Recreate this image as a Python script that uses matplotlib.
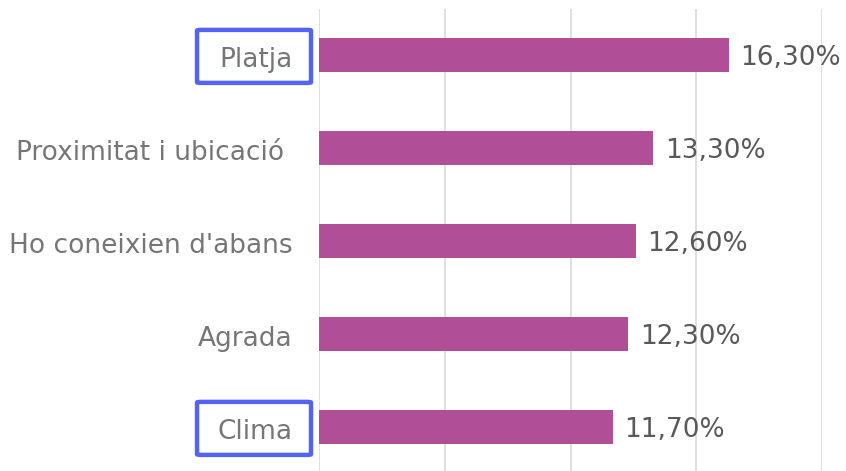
import matplotlib.pyplot as plt
import matplotlib.transforms as mtransforms
from matplotlib.patches import FancyBboxPatch

categories = ["Clima", "Agrada", "Ho coneixien d'abans", "Proximitat i ubicació ", "Platja"]
values = [11.7, 12.3, 12.6, 13.3, 16.3]
value_labels = ["11,70%", "12,30%", "12,60%", "13,30%", "16,30%"]
boxed = ["Platja", "Clima"]

fig = plt.figure(figsize=(8.46, 4.71), dpi=100)
ax = fig.add_axes([319 / 846, -2.5 / 471, 503 / 846, 465 / 471])

ax.barh(range(len(categories)), values, height=0.355, color="#B04F97", zorder=3)
for i, (v, lab) in enumerate(zip(values, value_labels)):
    ax.text(v + 0.45, i - 0.03, lab, va="center", ha="left", fontsize=19, color="#595959")

ax.set_xlim(0, 20)
ax.set_ylim(-0.5, len(categories) - 0.5)
ax.set_xticks([0, 5, 10, 15, 20])
ax.xaxis.grid(True, color="#D9D9D9", linewidth=1.2)
ax.tick_params(axis="x", length=0, labelbottom=False)
ax.set_yticks(range(len(categories)))
ax.set_yticklabels(categories, fontsize=19, color="#767676")
ax.tick_params(axis="y", length=0, pad=19)
# nudge the category labels a little lower
shift = mtransforms.ScaledTranslation(0, -1.2 / 72, fig.dpi_scale_trans)
for t in ax.get_yticklabels():
    t.set_transform(t.get_transform() + shift)
for s in ax.spines.values():
    s.set_visible(False)

# blue highlight boxes around some labels
trans = mtransforms.blended_transform_factory(ax.transAxes, ax.transData)
for name in boxed:
    i = categories.index(name)
    box = FancyBboxPatch((-0.2425, i - 0.30), 0.2266, 0.57,
                         boxstyle="round,pad=0,rounding_size=0.008",
                         transform=trans, clip_on=False, fill=False,
                         edgecolor="#5563F5", linewidth=3.2, zorder=5)
    ax.add_patch(box)

fig.savefig("out.png", dpi=100)
